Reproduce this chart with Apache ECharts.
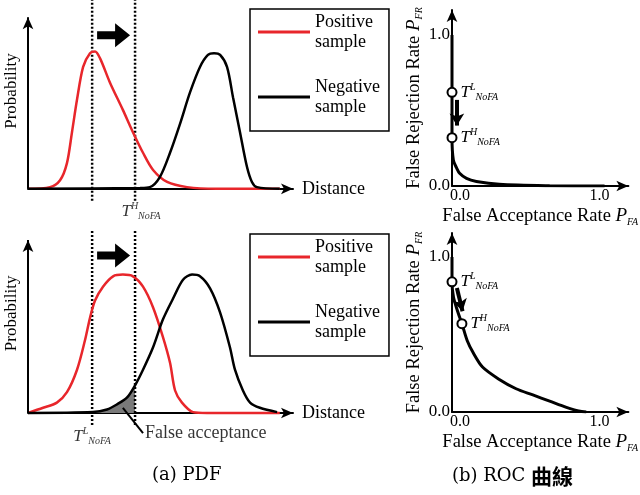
<!DOCTYPE html>
<html>
<head>
<meta charset="utf-8">
<script src="https://cdn.jsdelivr.net/npm/echarts@6/dist/echarts.min.js"></script>
<style>
html, body { margin: 0; padding: 0; background: #fff; }
#chart { width: 640px; height: 495px; }
</style>
</head>
<body>
<div id="chart"></div>
<script>
// PDF curves: [distance, probability]
const posTop = [[0,0],[8.3,0.01],[12.1,0.05],[14.7,0.15],[16.6,0.33],[18.5,0.52],[20.8,0.71],[23.4,0.79],[25.3,0.8],[27.2,0.76],[30.9,0.62],[35.8,0.46],[39.6,0.33],[43.4,0.21],[47.2,0.11],[52.5,0.04],[60,0.01],[71,0],[95,0]];
const negTop = [[0,0],[42.3,0.005],[46,0.01],[49.8,0.07],[53.6,0.21],[57.4,0.38],[61.1,0.56],[64.9,0.71],[67.9,0.78],[70.2,0.79],[72.5,0.78],[75.1,0.71],[77.4,0.53],[80,0.33],[82.6,0.13],[84.5,0.04],[86.4,0.01],[95,0]];
const posBottom = [[0,0],[5.7,0.03],[10.9,0.06],[14.7,0.12],[18.5,0.25],[21.5,0.42],[23.4,0.55],[25.3,0.65],[28.3,0.73],[32.1,0.79],[35.8,0.8],[39.6,0.79],[43.4,0.73],[47.2,0.61],[50.9,0.44],[53.6,0.29],[55.5,0.13],[58.1,0.06],[62.3,0.005],[67.5,0],[95,0]];
const negBottom = [[0,0],[24.5,0.005],[29.8,0.02],[33.6,0.05],[37.4,0.09],[40.4,0.16],[43.4,0.25],[47.2,0.38],[50.9,0.54],[54.7,0.66],[58.5,0.77],[61.9,0.8],[64.9,0.79],[68.7,0.72],[72.5,0.58],[76.2,0.38],[78.1,0.25],[81.1,0.13],[83.8,0.06],[87.5,0.03],[94,0.005]];
const thrLow = 24.2;
const thrHigh = 40.4;

// ROC curves: [P_FA, P_FR]
const rocTop = [[0,1],[0,0.62],[0,0.32],[0.009,0.17],[0.03,0.12],[0.05,0.084],[0.095,0.05],[0.16,0.03],[0.31,0.011],[0.64,0.002],[1.0,0]];
const rocBottom = [[0,1],[0,0.84],[0.01,0.74],[0.04,0.64],[0.065,0.57],[0.1,0.46],[0.14,0.38],[0.2,0.29],[0.31,0.21],[0.42,0.15],[0.53,0.11],[0.64,0.07],[0.75,0.03],[0.83,0.006],[0.88,0]];
const rocTopPts = [[0,0.62],[0,0.32]];
const rocBottomPts = [[0,0.84],[0.065,0.57]];
const rocTicks = [0, 1];
const legendNames = ['Positive sample', 'Negative sample'];

const serif = 'Liberation Serif';
const RED = '#e8262b';
const tRich = {
    t: { fontFamily: serif, fontStyle: 'italic', fontSize: 17, lineHeight: 20, color: '#000' },
    sup: { fontFamily: serif, fontStyle: 'italic', fontSize: 10, lineHeight: 10, verticalAlign: 'top', color: '#000' },
    sub: { fontFamily: serif, fontStyle: 'italic', fontSize: 10, lineHeight: 10, verticalAlign: 'bottom', color: '#000' }
};
const nameRich = {
    i: { fontFamily: serif, fontStyle: 'italic', fontSize: 19, lineHeight: 22, color: '#000' },
    s: { fontFamily: serif, fontStyle: 'italic', fontSize: 10, lineHeight: 10, verticalAlign: 'bottom', color: '#000' }
};
const tLabel = (sup) => '{t|T}{sup|' + sup + '}{sub|NoFA}';

function pdfX(gi) {
    return {
        gridIndex: gi, type: 'value', min: 0, max: 100,
        axisLine: { onZero: true, symbol: ['none', 'arrow'], symbolSize: [8, 12], lineStyle: { color: '#000', width: 2 } },
        axisTick: { show: false }, axisLabel: { show: false }, splitLine: { show: false },
        name: 'Distance', nameGap: 9,
        nameTextStyle: { fontFamily: serif, fontSize: 18, color: '#000', padding: [0, 0, 6, 0] }
    };
}
function pdfY(gi, min, max, shift) {
    return {
        gridIndex: gi, type: 'value', min: min, max: max,
        axisLine: { show: false }, axisTick: { show: false }, axisLabel: { show: false }, splitLine: { show: false },
        name: 'Probability', nameLocation: 'middle', nameGap: 8,
        nameTextStyle: { fontFamily: serif, fontSize: 17, color: '#000', padding: [0, 0, 0, shift] }
    };
}
function rocX(gi) {
    return {
        gridIndex: gi, type: 'value', min: 0, max: 1.156,
        axisLine: { symbol: ['none', 'arrow'], symbolSize: [8, 12], lineStyle: { color: '#000', width: 2 } },
        axisTick: { show: false }, splitLine: { show: false },
        axisLabel: {
            customValues: rocTicks, margin: 2,
            formatter: v => v === 0 ? '{a|0.0}' : '{b|1.0}',
            rich: {
                a: { fontFamily: serif, fontSize: 16, color: '#000', padding: [0, 0, 0, 16] },
                b: { fontFamily: serif, fontSize: 16, color: '#000', padding: [0, 10, 0, 0] }
            }
        },
        name: 'False Acceptance Rate {i|P}{s|FA}', nameLocation: 'middle', nameGap: 13,
        nameTextStyle: { fontFamily: serif, fontSize: 18.5, lineHeight: 22, color: '#000', rich: nameRich }
    };
}
function rocY(gi, max) {
    return {
        gridIndex: gi, type: 'value', min: 0, max: max,
        axisLine: { symbol: ['none', 'arrow'], symbolSize: [8, 12], lineStyle: { color: '#000', width: 2 } },
        axisTick: { show: false }, splitLine: { show: false },
        axisLabel: { customValues: rocTicks, margin: 2, formatter: v => v.toFixed(1), fontFamily: serif, fontSize: 17, color: '#000' },
        name: 'False Rejection Rate {i|P}{s|FR}', nameLocation: 'middle', nameGap: 23,
        nameTextStyle: { fontFamily: serif, fontSize: 18.5, lineHeight: 22, color: '#000', rich: nameRich }
    };
}

function pdfSeries(gi, pos, neg, yTop, arrowY) {
    const list = [];
    list.push({
        name: 'Positive sample', type: 'line', xAxisIndex: gi, yAxisIndex: gi,
        data: pos, smooth: 0.3, symbol: 'none', lineStyle: { color: RED, width: 2.5 }, itemStyle: { color: RED }, z: 4,
        markLine: {
            silent: true, symbol: ['none', 'arrow'], symbolSize: [8, 12], label: { show: false },
            lineStyle: { color: '#000', width: 2, type: 'solid' },
            data: [[{ coord: [0, 0] }, { coord: [0, 1] }]]
        }
    });
    list.push({
        name: 'Negative sample', type: 'line', xAxisIndex: gi, yAxisIndex: gi,
        data: neg, smooth: 0.3, symbol: 'none', lineStyle: { color: '#000', width: 2.5 }, itemStyle: { color: '#000' }, z: 4
    });
    [thrLow, thrHigh].forEach((t, k) => {
        list.push({
            name: 'thr' + gi + k, type: 'line', xAxisIndex: gi, yAxisIndex: gi, silent: true,
            data: [[t, -0.07], [t, yTop]], symbol: 'none',
            lineStyle: { color: '#000', width: 2.5, type: [2, 2] }, z: 3
        });
    });
    list.push({
        name: 'shift' + gi, type: 'scatter', xAxisIndex: gi, yAxisIndex: gi, silent: true,
        data: [[(thrLow + thrHigh) / 2, arrowY]],
        symbol: 'path://M0,8L18,8L18,0L33,12L18,24L18,16L0,16Z', symbolSize: [33, 24],
        itemStyle: { color: '#000', opacity: 1 }
    });
    return list;
}

const series = [];
series.push(...pdfSeries(0, posTop, negTop, 1.1, 0.895));
series.push({
    name: 'labTop', type: 'scatter', xAxisIndex: 0, yAxisIndex: 0, silent: true,
    data: [[thrHigh, -0.07]], symbolSize: 0,
    label: { show: true, position: 'bottom', distance: 1, offset: [6, 0], formatter: tLabel('H'), rich: tRich }
});
// false acceptance area
series.push({
    name: 'fa', type: 'line', xAxisIndex: 1, yAxisIndex: 1, silent: true,
    data: negBottom.filter(p => p[0] >= thrLow && p[0] <= thrHigh), smooth: 0.3, symbol: 'none',
    lineStyle: { width: 0 }, areaStyle: { color: '#7a7a7a', opacity: 1 }, z: 2
});
series.push(...pdfSeries(1, posBottom, negBottom, 1.06, 0.91));
series.push({
    name: 'faLeader', type: 'line', xAxisIndex: 1, yAxisIndex: 1, silent: true,
    data: [[35.8, 0.03], [43.4, -0.116]], symbol: 'none', lineStyle: { color: '#000', width: 2 }, z: 5
});
series.push({
    name: 'labBottom', type: 'scatter', xAxisIndex: 1, yAxisIndex: 1, silent: true, symbolSize: 0,
    data: [
        { value: [thrLow, -0.07], label: { position: 'bottom', distance: 1, formatter: tLabel('L') } },
        { value: [43.4, -0.116], label: { position: 'right', distance: 2, formatter: 'False acceptance' } }
    ],
    label: { show: true, fontFamily: serif, fontSize: 18, color: '#000', rich: tRich }
});

function rocSeries(gi, roc, pts, arrow) {
    return [
        {
            name: 'roc' + gi, type: 'line', xAxisIndex: gi, yAxisIndex: gi, silent: true,
            data: roc, smooth: 0.3, symbol: 'none', lineStyle: { color: '#000', width: 3 }, z: 3
        },
        {
            name: 'pts' + gi, type: 'scatter', xAxisIndex: gi, yAxisIndex: gi, silent: true,
            data: pts, symbol: 'circle', symbolSize: 9,
            itemStyle: { color: '#fff', borderColor: '#000', borderWidth: 2, opacity: 1 }, z: 5,
            label: { show: true, position: 'right', distance: 3, formatter: p => tLabel(p.dataIndex === 0 ? 'L' : 'H'), rich: tRich },
            markLine: {
                silent: true, symbol: ['none', 'arrow'], symbolSize: [11, 12], label: { show: false },
                lineStyle: { color: '#000', width: 4, type: 'solid' },
                data: [[{ coord: arrow[0] }, { coord: arrow[1] }]]
            }
        }
    ];
}
series.push(...rocSeries(2, rocTop, rocTopPts, [[0.032, 0.57], [0.032, 0.40]]));
series.push(...rocSeries(3, rocBottom, rocBottomPts, [[0.032, 0.80], [0.069, 0.65]]));

function makeLegend(top) {
    return {
        data: legendNames, orient: 'vertical', left: 250, top: top,
        icon: 'rect', itemWidth: 52, itemHeight: 3, itemGap: 5, selectedMode: false,
        formatter: n => n.replace(' ', '\n'),
        textStyle: { fontFamily: serif, fontSize: 18, lineHeight: 20, color: '#000', padding: [20, 0, 0, 0] },
        borderColor: '#000', borderWidth: 1.5, padding: [-7, 9, 4, 8]
    };
}

const chart = echarts.init(document.getElementById('chart'), null, { renderer: 'canvas' });
chart.setOption({
    animation: false,
    backgroundColor: '#fff',
    title: [
        { text: '(a) PDF', left: 147, top: 461, textStyle: { fontFamily: 'DejaVu Serif', fontSize: 18, fontWeight: 'normal', color: '#000' } },
        {
            text: '(b) ROC {c|曲線}', left: 447, top: 461,
            textStyle: {
                fontFamily: 'DejaVu Serif', fontSize: 18, fontWeight: 'normal', color: '#000',
                rich: { c: { fontFamily: 'Noto Sans CJK TC', fontSize: 21, fontWeight: 'bold', color: '#000' } }
            }
        }
    ],
    legend: [makeLegend(9), makeLegend(234)],
    grid: [
        { left: 28, width: 265, top: 0, height: 206 },
        { left: 28, width: 265, top: 229.6, height: 207.6 },
        { left: 452, width: 178, top: 10, height: 176 },
        { left: 452, width: 178, top: 233, height: 179 }
    ],
    xAxis: [pdfX(0), pdfX(1), rocX(2), rocX(3)],
    yAxis: [pdfY(0, -0.1, 1.1, 24), pdfY(1, -0.14, 1.06, 40), rocY(2, 1.165), rocY(3, 1.155)],
    series: series
});
</script>
</body>
</html>
